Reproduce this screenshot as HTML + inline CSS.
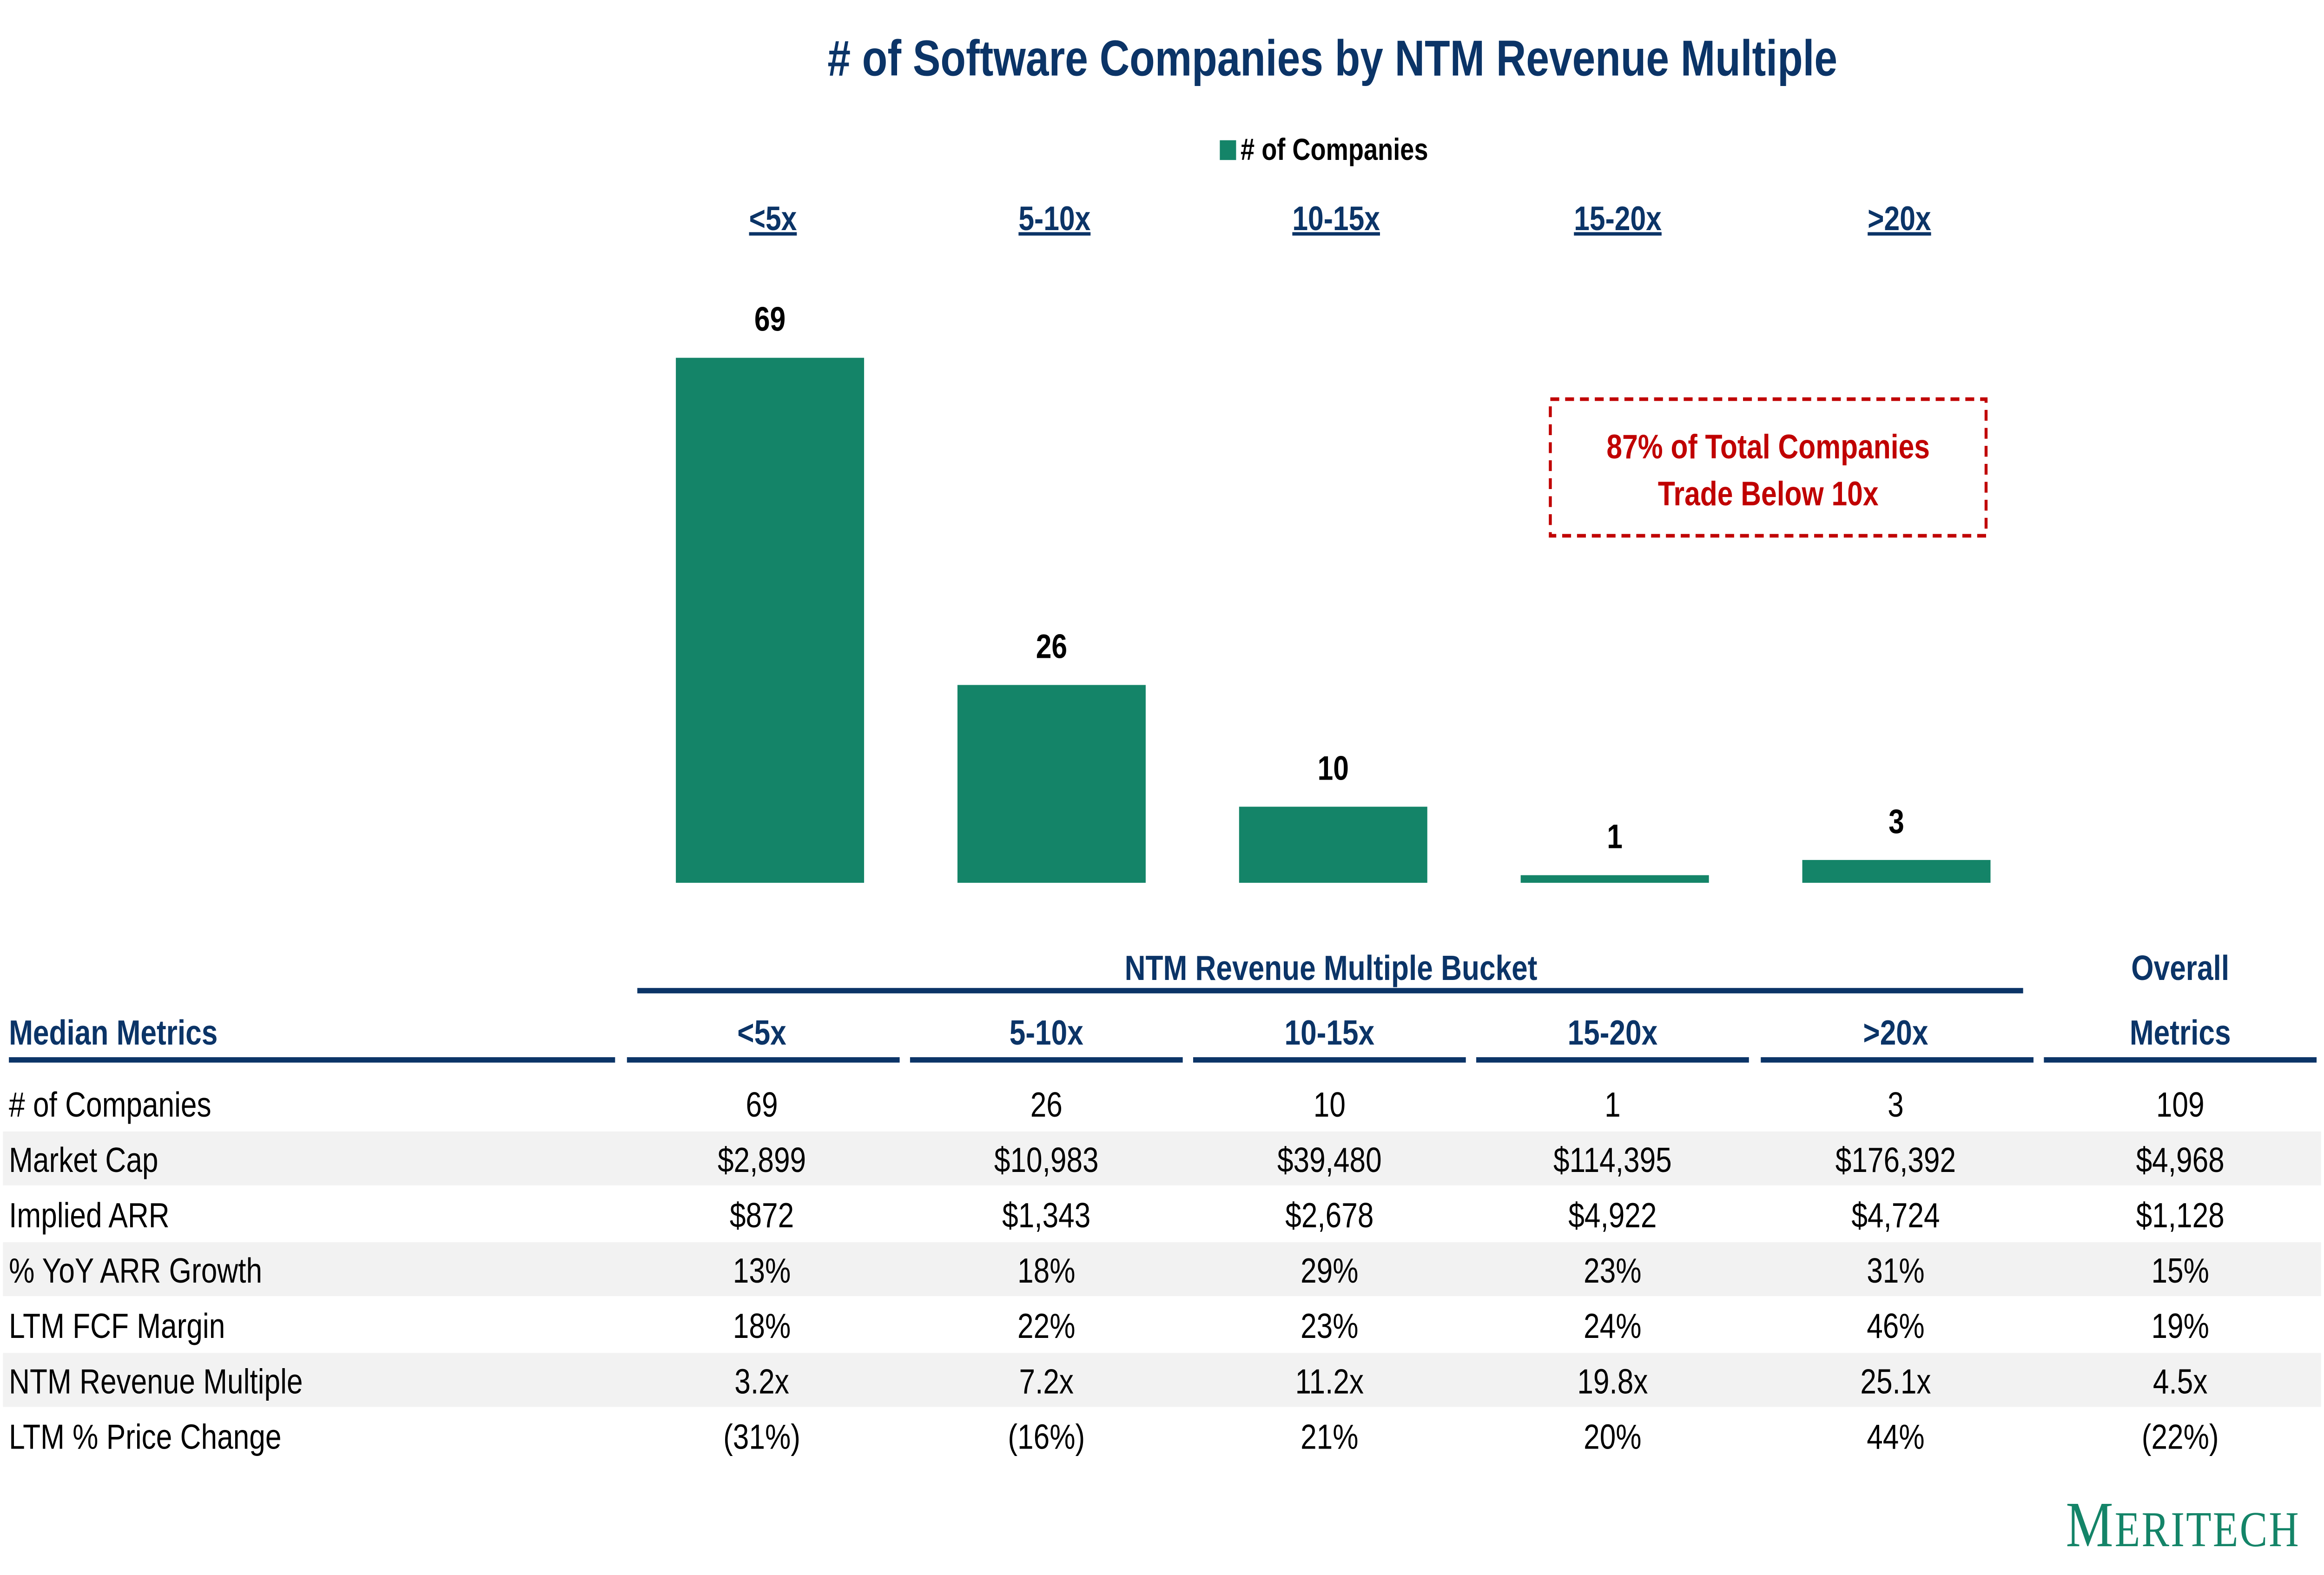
<!DOCTYPE html>
<html><head><meta charset="utf-8"><style>
html,body{margin:0;padding:0;background:#fff;overflow:hidden;width:100vw;height:100vh;}
svg{display:block;position:absolute;left:0;top:0;width:100vw;height:100vh;font-family:"Liberation Sans",Arial,sans-serif;}
</style></head><body>
<svg id="chart" viewBox="0 0 1568 876" preserveAspectRatio="none" xmlns="http://www.w3.org/2000/svg">
<text x="899" y="42" text-anchor="middle" font-size="28" font-weight="bold" fill="#0b3467">#  of Software Companies by NTM Revenue Multiple</text>
<g>
<rect x="823" y="78" width="11" height="11" fill="#148468"/>
<text x="837" y="89" font-size="17" font-weight="bold" fill="#000">#  of Companies</text>
</g>
<g id="cats"></g>
<g id="bars"></g>
<g>
<rect x="1046" y="222" width="294" height="76" fill="none" stroke="#c00000" stroke-width="2" stroke-dasharray="6,4"/>
<text x="1193" y="255" text-anchor="middle" font-size="19" font-weight="bold" fill="#c00000">87% of Total Companies</text>
<text x="1193" y="281" text-anchor="middle" font-size="19" font-weight="bold" fill="#c00000">Trade Below 10x</text>
</g>
<g id="table"></g>
<text x="1552" y="860" text-anchor="end" font-family="Liberation Serif,serif" font-size="36" fill="#148468" letter-spacing="1">M<tspan font-size="28">ERITECH</tspan></text>
</svg>
<script>
const categories = ["<5x","5-10x","10-15x","15-20x",">20x"];
const companies = [69,26,10,1,3];
const rowLabels = ["# of Companies","Market Cap","Implied ARR","% YoY ARR Growth","LTM FCF Margin","NTM Revenue Multiple","LTM % Price Change"];
const tableValues = [
 ["69","26","10","1","3","109"],
 ["$2,899","$10,983","$39,480","$114,395","$176,392","$4,968"],
 ["$872","$1,343","$2,678","$4,922","$4,724","$1,128"],
 ["13%","18%","29%","23%","31%","15%"],
 ["18%","22%","23%","24%","46%","19%"],
 ["3.2x","7.2x","11.2x","19.8x","25.1x","4.5x"],
 ["(31%)","(16%)","21%","20%","44%","(22%)"]
];
const NS="http://www.w3.org/2000/svg";
function mk(tag,attrs,parent,txt){const e=document.createElementNS(NS,tag);for(const k in attrs)e.setAttribute(k,attrs[k]);if(txt!==undefined)e.textContent=txt;parent.appendChild(e);return e;}
const baseY=491, maxPx=292, maxVal=69;
function yScale(v){return baseY - v/maxVal*maxPx;}
function xCenter(i){return 519.5 + i*190;}
const barW=127;
const bars=document.getElementById('bars'), cats=document.getElementById('cats');
categories.forEach((c,i)=>{
 const t=mk('text',{x:xCenter(i)+2,y:128,'text-anchor':'middle','font-size':19,'font-weight':'bold',fill:'#0b3467','text-decoration':'underline'},cats,c);
 
 
 const y=yScale(companies[i]);
 const r=mk('rect',{x:xCenter(i)-barW/2,y:y,width:barW,height:baseY-y,fill:'#148468'},bars);
 
 
 const l=mk('text',{x:xCenter(i),y:y-15,'text-anchor':'middle','font-size':19,'font-weight':'bold',fill:'#000'},bars,companies[i]);
 
 
});
const tb=document.getElementById('table');
const colX=[514,706,897,1088,1279,1471];
const rowY0=614, pitch=30.8;
rowLabels.forEach((lab,r)=>{
 const cy=rowY0+r*pitch;
 if(r%2===1){const bg=mk('rect',{x:2,y:cy-15.5,width:1564,height:30,fill:'#f2f2f2'},tb);
  
  }
 const t=mk('text',{x:6,y:cy+7,'font-size':19.5,fill:'#000'},tb,lab);
 
 
 tableValues[r].forEach((v,c)=>{
  const e=mk('text',{x:colX[c],y:cy+7,'text-anchor':'middle','font-size':19.5,fill:'#000'},tb,v);
  
  
 });
});
const h1=mk('text',{x:898,y:545,'text-anchor':'middle','font-size':19.5,'font-weight':'bold',fill:'#0b3467'},tb,'NTM Revenue Multiple Bucket');


const h2=mk('text',{x:1471,y:545,'text-anchor':'middle','font-size':19.5,'font-weight':'bold',fill:'#0b3467'},tb,'Overall');


const ln=mk('rect',{x:430,y:549.5,width:935,height:3,fill:'#0b3467'},tb);


const h3=mk('text',{x:6,y:581,'font-size':19.5,'font-weight':'bold',fill:'#0b3467'},tb,'Median Metrics');


const colHeads=categories.concat(['Metrics']);
colHeads.forEach((h,c)=>{
 const e=mk('text',{x:colX[c],y:581,'text-anchor':'middle','font-size':19.5,'font-weight':'bold',fill:'#0b3467'},tb,h);
 
 
});
const segs=[[6,415],[423,607],[614,798],[805,989],[996,1180],[1188,1372],[1379,1563]];
segs.forEach(s=>{
 const e=mk('rect',{x:s[0],y:588,width:s[1]-s[0],height:3,fill:'#0b3467'},tb);
 
 
});
</script>
</body></html>
